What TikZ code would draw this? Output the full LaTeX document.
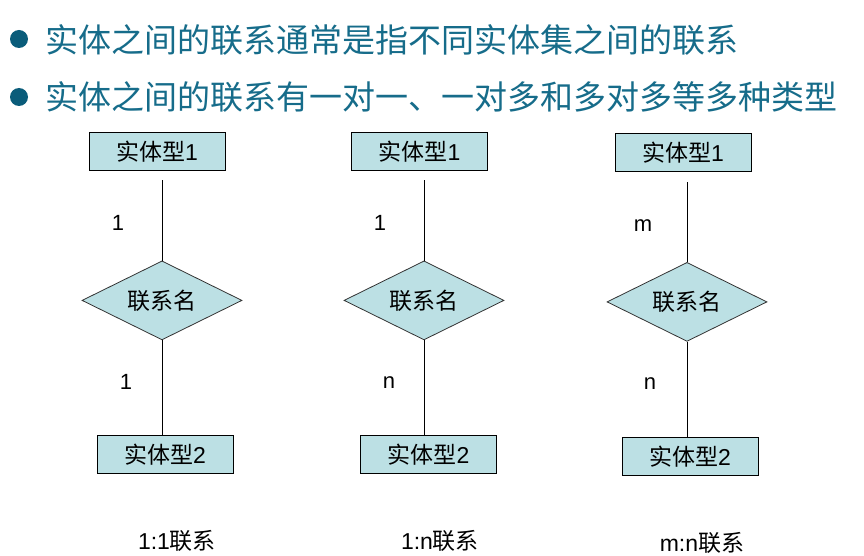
\documentclass[tikz,border=0pt]{standalone}
\usepackage{fontspec}
\setmainfont{Liberation Sans}
\newfontfamily\cjk{Noto Sans CJK SC}
\usetikzlibrary{positioning,shapes.geometric}

\definecolor{tealtext}{RGB}{22,108,138}
\definecolor{tealdot}{RGB}{10,92,122}
\definecolor{boxfill}{RGB}{188,224,228}

\tikzset{
  entity/.style={draw=black, line width=1pt, fill=boxfill, minimum width=136pt,
    minimum height=38pt, inner sep=0pt, font=\fontsize{23}{23}\selectfont},
  relation/.style={draw=black!80, line width=0.8pt, fill=boxfill, shape=diamond,
    shape aspect=2, minimum width=160pt, minimum height=79pt, inner sep=0pt,
    font=\fontsize{23}{23}\selectfont},
  link/.style={draw=black, line width=0.9pt},
  card/.style={font=\fontsize{22}{22}\selectfont, inner sep=0pt},
  caption/.style={font=\fontsize{23}{23}\selectfont, inner sep=0pt},
  point/.style={text=tealtext, anchor=west, inner sep=0pt, font=\fontsize{33}{33}\selectfont\cjk},
}

\begin{document}
\begin{tikzpicture}[x=1pt, y=-1pt]
  \useasboundingbox (0,0) rectangle (864,556);

  % bullet lines
  \fill[tealdot] (19,39) circle (9pt);
  \fill[tealdot] (19,97) circle (9pt);
  \node[point] (p1) at (45,40) {实体之间的联系通常是指不同实体集之间的联系};
  \node[point] (p2) at (45,97) {实体之间的联系有一对一、一对多和多对多等多种类型};

  % one to one
  \node[entity] (ea1) at (157,152) {{\cjk 实体型}1};
  \node[relation, below=89pt of ea1, xshift=5pt] (ra) {\cjk 联系名};
  \node[entity, below=95pt of ra, xshift=3pt] (ea2) {{\cjk 实体型}2};

  % one to many
  \node[entity] (eb1) at (419.5,152) {{\cjk 实体型}1};
  \node[relation, below=89pt of eb1, xshift=4.5pt] (rb) {\cjk 联系名};
  \node[entity, below=95pt of rb, xshift=4.5pt] (eb2) {{\cjk 实体型}2};

  % many to many
  \node[entity] (ec1) at (683,152.5) {{\cjk 实体型}1};
  \node[relation, below=90pt of ec1, xshift=4pt] (rc) {\cjk 联系名};
  \node[entity, below=95pt of rc, xshift=3pt] (ec2) {{\cjk 实体型}2};

  % connectors
  \draw[link, shorten >=9pt] (ra.north) -- (ra.north |- ea1.south);
  \draw[link] (ra.south) -- (ra.south |- ea2.north);
  \draw[link, shorten >=9pt] (rb.north) -- (rb.north |- eb1.south);
  \draw[link] (rb.south) -- (rb.south |- eb2.north);
  \draw[link, shorten >=10pt] (rc.north) -- (rc.north |- ec1.south);
  \draw[link] (rc.south) -- (rc.south |- ec2.north);

  % cardinalities
  \node[card] (ca1) at (118,223) {1};
  \node[card] (ca2) at (126,382) {1};
  \node[card] (cb1) at (380,223) {1};
  \node[card] (cb2) at (389,383) {n};
  \node[card] (cc1) at (643,226) {m};
  \node[card] (cc2) at (650,384) {n};

  % captions
  \node[caption] (ta) at (177,541) {1:1{\cjk 联系}};
  \node[caption] (tb) at (440,541) {1:n{\cjk 联系}};
  \node[caption] (tc) at (702,543) {m:n{\cjk 联系}};
\end{tikzpicture}
\end{document}
